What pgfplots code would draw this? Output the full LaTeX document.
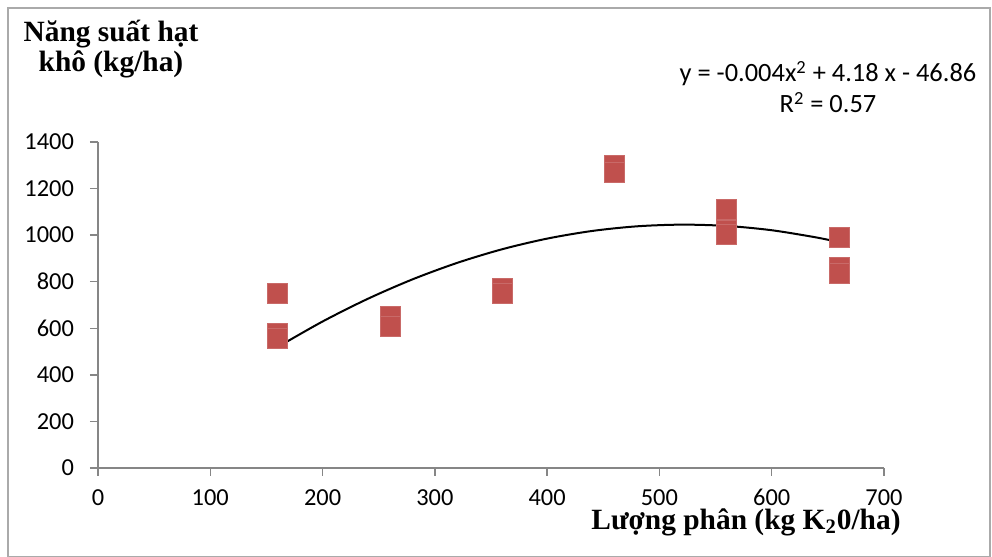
\documentclass[border=0pt]{standalone}
\usepackage{fontspec}
\setmainfont{Carlito}
\newfontfamily\timesb{Liberation Serif}
\usepackage{pgfplots}
\pgfplotsset{compat=1.18}

\definecolor{exred}{HTML}{C0504D}
\definecolor{axgray}{RGB}{134,134,134}

\begin{document}
\begin{tikzpicture}
	\useasboundingbox (-49pt,-44.5pt) rectangle (447pt,234pt);
	\draw[axgray!70, line width=0.6pt] (-45pt,-44.5pt) rectangle (446pt,230pt);
	\begin{axis}[
			scale only axis,
			width=393pt,
			height=163pt,
			xmin=0, xmax=700,
			ymin=0, ymax=1400,
			xtick={0,100,...,700},
			ytick={0,200,...,1400},
			axis x line*=bottom,
			axis y line*=left,
			axis line style={axgray, line width=0.75pt, -},
			tick style={axgray, line width=0.75pt},
			tick align=outside,
			major tick length=4pt,
			tick label style={font=\fontsize{12.2}{14}\selectfont},
			yticklabel style={xshift=-4.5pt},
			xticklabel style={inner sep=0pt, yshift=-6.5pt},
			/pgf/number format/assume math mode=true,
			/pgf/number format/set thousands separator={},
			clip=false,
		]

		\addplot[
			only marks,
			mark=square*,
			mark size=5pt,
			mark options={fill=exred, draw=exred!85!white, line width=0.4pt},
		] coordinates {
				(160,750) (160,580) (160,555)
				(260,650) (260,610)
				(360,770) (360,750)
				(460,1300) (460,1270)
				(560,1110) (560,1020) (560,1005)
				(660,990) (660,860) (660,835)
			};

		% polynomial trendline, values worked out from the printed equation
		\addplot[black, line width=1pt, smooth] coordinates {
				(160,519.5) (200,629.1) (240,725.9) (280,809.9)
				(320,881.1) (360,939.5) (400,985.1) (440,1017.9)
				(480,1037.9) (520,1045.1) (560,1039.5) (600,1021.1)
				(640,989.9) (660,969.5)
			};
	\end{axis}

	\begin{scope}[every node/.style={font=\timesb\bfseries\fontsize{14.7}{17}\selectfont, anchor=base}]
		\node at (6.5pt,213pt) {Năng suất hạt};
		\node at (6.5pt,198pt) {khô (kg/ha)};
		\node[inner sep=0pt] at (324pt,-30.8pt) {Lượng phân (kg K\textsubscript{2}0/ha)};
	\end{scope}
	\begin{scope}[every node/.style={font=\fontsize{13.2}{15}\selectfont, anchor=base}]
		\node at (365pt,193pt) {y = -0.004x\textsuperscript{2} + 4.18 x - 46.86};
		\node at (365pt,177.5pt) {R\textsuperscript{2} = 0.57};
	\end{scope}
\end{tikzpicture}
\end{document}
